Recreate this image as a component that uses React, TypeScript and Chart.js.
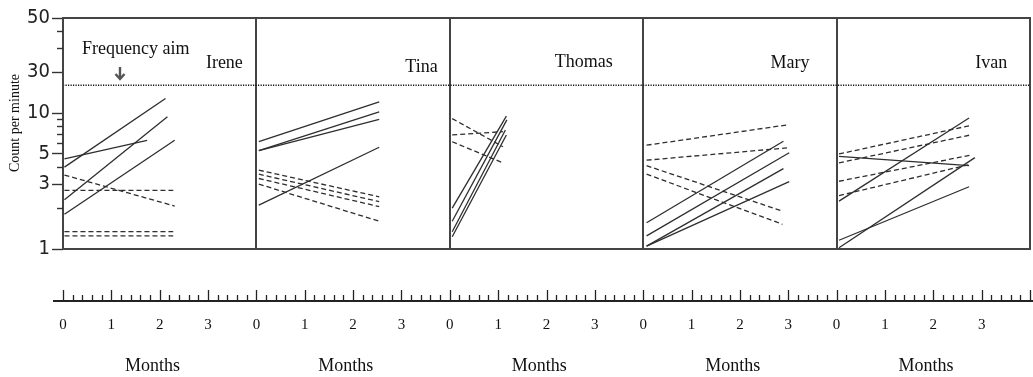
import React, { useEffect, useRef } from "react";
import { Chart, registerables } from "chart.js";

Chart.register(...registerables);

// ---------- data ----------
const people = ["Irene", "Tina", "Thomas", "Mary", "Ivan"];
const monthLabels = ["0", "1", "2", "3"];
const monthsPerPanel = 4;
const frequencyAim = 16;

// each line: [startMonth, startCount, endMonth, endCount]
const ireneSolid = [
  [0.03, 4.0, 2.12, 12.8],
  [0.03, 4.6, 1.74, 6.3],
  [0.03, 2.3, 2.16, 9.4],
  [0.03, 1.8, 2.31, 6.3],
];
const ireneDashed = [
  [0.03, 3.5, 2.31, 2.07],
  [0.03, 2.7, 2.28, 2.7],
  [0.03, 1.34, 2.28, 1.34],
  [0.03, 1.25, 2.28, 1.25],
];
const tinaSolid = [
  [0.05, 6.15, 2.54, 12.1],
  [0.05, 5.3, 2.54, 10.2],
  [0.05, 5.3, 2.54, 9.0],
  [0.05, 2.1, 2.54, 5.6],
];
const tinaDashed = [
  [0.05, 3.8, 2.54, 2.42],
  [0.05, 3.55, 2.54, 2.23],
  [0.05, 3.3, 2.54, 2.05],
  [0.05, 3.0, 2.54, 1.6],
];
const thomasSolid = [
  [0.05, 2.0, 1.17, 9.5],
  [0.05, 1.6, 1.18, 8.9],
  [0.05, 1.34, 1.15, 7.5],
  [0.05, 1.23, 1.17, 6.9],
];
const thomasDashed = [
  [0.05, 9.1, 1.1, 5.65],
  [0.05, 6.9, 1.1, 7.3],
  [0.05, 6.15, 1.1, 4.3],
];
const marySolid = [
  [0.07, 1.56, 2.9, 6.2],
  [0.07, 1.25, 3.02, 5.1],
  [0.07, 1.05, 2.9, 3.9],
  [0.07, 1.05, 3.02, 3.13],
];
const maryDashed = [
  [0.07, 5.8, 3.0, 8.2],
  [0.07, 4.5, 3.0, 5.55],
  [0.07, 4.1, 2.88, 1.9],
  [0.07, 3.55, 2.88, 1.52],
];
const ivanSolid = [
  [0.05, 2.25, 2.74, 9.2],
  [0.05, 4.8, 2.74, 4.1],
  [0.05, 1.02, 2.86, 4.7],
  [0.05, 1.16, 2.74, 2.87],
];
const ivanDashed = [
  [0.05, 5.0, 2.77, 8.1],
  [0.05, 4.3, 2.77, 6.9],
  [0.05, 3.15, 2.77, 4.9],
  [0.05, 2.47, 2.77, 4.2],
];

const solidByPerson = [ireneSolid, tinaSolid, thomasSolid, marySolid, ivanSolid];
const dashedByPerson = [ireneDashed, tinaDashed, thomasDashed, maryDashed, ivanDashed];

const yTickValues = [1, 2, 3, 4, 5, 6, 7, 8, 9, 10, 20, 30, 40, 50];
const yLabelledTicks = [1, 3, 5, 10, 20, 50];
const yTickLabels = ["1", "3", "5", "10", "30", "50"];

// ---------- layout / style ----------
const W = 1033;
const H = 377;
const LINE = "#2e2e2e";
const FRAME = "#444";
const SERIF = "'Liberation Serif', 'Times New Roman', serif";
const NARROW = "'Liberation Sans Narrow', 'DejaVu Sans Condensed', 'Liberation Sans', sans-serif";

function buildDatasets() {
  const ds: any[] = [];
  const add = (groups: number[][][], dashed: boolean) => {
    groups.forEach((lines, p) => {
      lines.forEach(([x0, y0, x1, y1]) => {
        ds.push({
          data: [
            { x: p * monthsPerPanel + x0, y: y0 },
            { x: p * monthsPerPanel + x1, y: y1 },
          ],
          borderColor: LINE,
          borderWidth: 1.3,
          borderDash: dashed ? [5, 3] : [],
          pointRadius: 0,
          fill: false,
          tension: 0,
        });
      });
    });
  };
  add(solidByPerson, false);
  add(dashedByPerson, true);
  ds.push({
    data: [
      { x: 0, y: frequencyAim },
      { x: people.length * monthsPerPanel, y: frequencyAim },
    ],
    borderColor: "#111",
    borderWidth: 1.5,
    borderDash: [1.2, 1.3],
    pointRadius: 0,
    fill: false,
  });
  return ds;
}

const xTickValues: number[] = [];
people.forEach((_, p) => monthLabels.forEach((_, m) => xTickValues.push(p * monthsPerPanel + m)));
xTickValues.push(people.length * monthsPerPanel);

// name label anchors (right edge, in panel months) and vertical pixel centres
const nameRight = [3.72, 3.75, 3.37, 3.44, 3.53];
const nameY = [63, 67, 62, 63, 63];

const decor = {
  id: "decor",
  afterDraw(chart: any) {
    const { ctx, chartArea: a, scales } = chart;
    const xs = scales.x;
    const ys = scales.y;
    ctx.save();

    // panel frame
    ctx.strokeStyle = FRAME;
    ctx.lineWidth = 2;
    ctx.strokeRect(a.left, a.top, a.right - a.left, a.bottom - a.top);

    // minor y ticks
    ctx.strokeStyle = "#333";
    ctx.lineWidth = 1.4;
    yTickValues.forEach((v) => {
      if (yLabelledTicks.includes(v)) return;
      const y = Math.round(ys.getPixelForValue(v)) + 0.5;
      ctx.beginPath();
      ctx.moveTo(a.left - 6, y);
      ctx.lineTo(a.left, y);
      ctx.stroke();
    });

    // ruler
    const base = 301;
    ctx.strokeStyle = "#222";
    ctx.lineWidth = 2;
    ctx.beginPath();
    ctx.moveTo(53, base);
    ctx.lineTo(W, base);
    ctx.stroke();
    ctx.lineWidth = 1.3;
    const total = people.length * monthsPerPanel;
    for (let k = 0; k <= total * 5; k++) {
      const x = Math.round(xs.getPixelForValue(k / 5)) + 0.5;
      ctx.beginPath();
      ctx.moveTo(x, base);
      ctx.lineTo(x, k % 5 === 0 ? base - 11 : base - 6);
      ctx.stroke();
    }

    // texts
    ctx.fillStyle = "#111";
    ctx.textBaseline = "middle";
    ctx.font = `18px ${SERIF}`;
    ctx.textAlign = "center";
    people.forEach((_, p) => {
      ctx.fillText("Months", xs.getPixelForValue(p * monthsPerPanel + 1.85), 366);
    });
    ctx.textAlign = "right";
    people.forEach((name, p) => {
      ctx.fillText(name, xs.getPixelForValue(p * monthsPerPanel + nameRight[p]), nameY[p]);
    });
    ctx.textAlign = "left";
    ctx.fillText("Frequency aim", 82, 49);

    // arrow
    ctx.strokeStyle = "#555";
    ctx.lineWidth = 2.4;
    ctx.beginPath();
    ctx.moveTo(120, 67);
    ctx.lineTo(120, 79);
    ctx.moveTo(115.5, 74);
    ctx.lineTo(120, 79);
    ctx.lineTo(124.5, 74);
    ctx.stroke();

    // y title
    ctx.save();
    ctx.translate(15, 123);
    ctx.rotate(-Math.PI / 2);
    ctx.textAlign = "center";
    ctx.font = `14px ${SERIF}`;
    ctx.fillText("Count per minute", 0, 0);
    ctx.restore();

    ctx.restore();
  },
};

export default function App() {
  const ref = useRef<HTMLCanvasElement>(null);
  useEffect(() => {
    document.body.style.margin = "0";
    const chart = new Chart(ref.current as HTMLCanvasElement, {
      type: "line",
      data: { datasets: buildDatasets() },
      options: {
        animation: false,
        responsive: false,
        devicePixelRatio: 1,
        layout: { padding: { top: 18, right: 3, bottom: 0, left: 0 } },
        plugins: { legend: { display: false }, tooltip: { enabled: false } },
        scales: {
          x: {
            type: "linear",
            min: 0,
            max: people.length * monthsPerPanel,
            afterBuildTicks: (s: any) => {
              s.ticks = xTickValues.map((v) => ({ value: v }));
            },
            afterFit: (s: any) => {
              s.height = H - 249;
              s.paddingLeft = 0;
              s.paddingRight = 0;
            },
            ticks: {
              autoSkip: false,
              maxRotation: 0,
              padding: 0,
              color: "#111",
              font: { family: SERIF, size: 15 },
              callback: (v: any) =>
                v >= people.length * monthsPerPanel ? "" : monthLabels[Math.round(v) % monthsPerPanel],
            },
            grid: {
              display: true,
              drawOnChartArea: true,
              drawTicks: true,
              tickLength: 67,
              tickColor: "rgba(0,0,0,0)",
              lineWidth: 2,
              color: (c: any) =>
                c.tick && Math.round(c.tick.value) % monthsPerPanel === 0 ? FRAME : "rgba(0,0,0,0)",
            },
            border: { display: false },
          },
          y: {
            type: "logarithmic",
            min: 1,
            max: 50,
            afterBuildTicks: (s: any) => {
              s.ticks = yTickValues.map((v) => ({ value: v }));
            },
            afterFit: (s: any) => {
              s.width = 63;
            },
            ticks: {
              autoSkip: false,
              padding: 2,
              color: "#222",
              font: { family: NARROW, size: 20 },
              callback: (v: any) => {
                const i = yLabelledTicks.indexOf(Number(v));
                return i >= 0 ? yTickLabels[i] : "";
              },
            },
            grid: {
              display: true,
              drawOnChartArea: false,
              drawTicks: true,
              tickLength: 11,
              tickWidth: 1.4,
              tickColor: (c: any) =>
                c.tick && yLabelledTicks.includes(Number(c.tick.value)) ? "#333" : "rgba(0,0,0,0)",
            },
            border: { display: false },
          },
        },
      },
      plugins: [decor],
    } as any);
    return () => chart.destroy();
  }, []);
  return (
    <div style={{ width: W, height: H }}>
      <canvas ref={ref} width={W} height={H} style={{ display: "block" }} />
    </div>
  );
}
